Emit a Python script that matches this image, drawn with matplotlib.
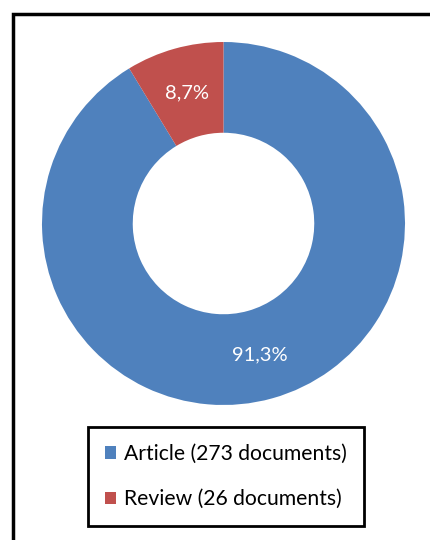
import matplotlib.pyplot as plt
from matplotlib.patches import Rectangle, Patch

plt.rcParams['font.family'] = ['Lato', 'DejaVu Sans']

# document types
labels = ['Article (273 documents)', 'Review (26 documents)']
counts = [273, 26]
colors = ['#4F81BD', '#C0504D']

W, H = 430, 540
fig = plt.figure(figsize=(W / 100, H / 100), dpi=100)

# outer frame (left and top edges visible)
fig.patches.append(Rectangle((13 / W, -0.1), 1.2, 1 - 13.5 / H + 0.1,
                             transform=fig.transFigure, fill=False,
                             edgecolor='black', linewidth=2.5))

ax = fig.add_axes([42 / W, 1 - 405 / H, 363 / W, 363 / H])
wedges, texts, autotexts = ax.pie(
    counts, colors=colors, startangle=90, counterclock=False,
    radius=1, pctdistance=0.75,
    autopct=lambda p: f'{p:.1f}%'.replace('.', ','),
    wedgeprops=dict(width=0.5, linewidth=0),
    textprops=dict(color='white', fontsize=14.5))
ax.set_xlim(-1, 1)
ax.set_ylim(-1, 1)
ax.set_aspect('equal')
ax.axis('off')

handles = [Patch(facecolor=c, edgecolor='none') for c in colors]
leg = fig.legend(handles, labels, loc='upper left',
                 bbox_to_anchor=(88 / W, 1 - 427 / H),
                 fontsize=15.2, frameon=True, fancybox=False, framealpha=1,
                 handlelength=0.52, handleheight=0.52, handletextpad=0.38,
                 labelspacing=1.2, borderpad=0.8, borderaxespad=0)
leg.get_frame().set_edgecolor('black')
leg.get_frame().set_linewidth(2)

fig.savefig('out.png', dpi=100)
